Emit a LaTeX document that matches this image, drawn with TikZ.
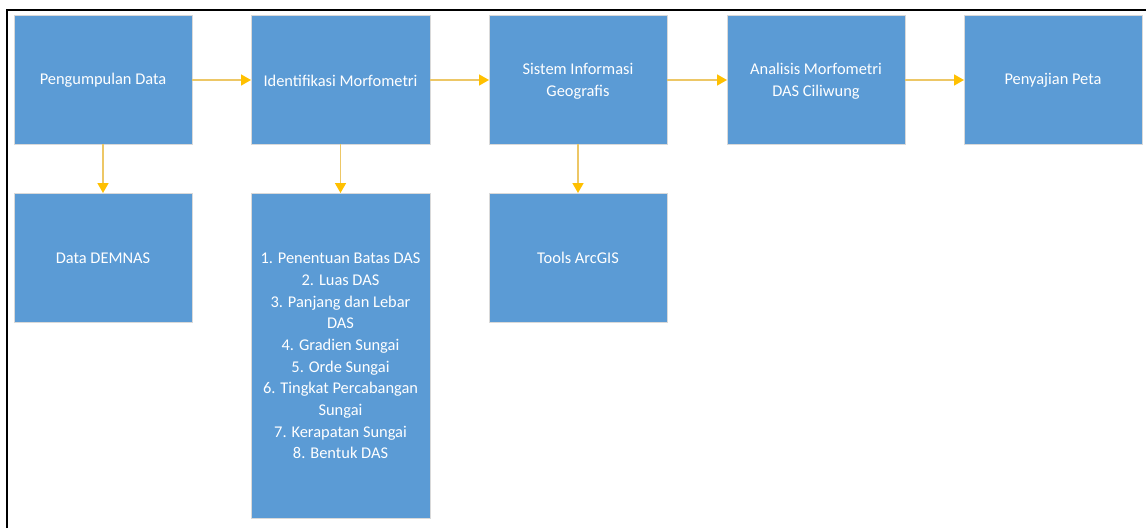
\documentclass[tikz,border=0pt]{standalone}
\usepackage{fontspec}
\setmainfont{Carlito}
\usetikzlibrary{arrows.meta}
\definecolor{boxblue}{HTML}{5B9BD5}
\definecolor{arrgold}{HTML}{FFC000}
\definecolor{linegold}{HTML}{EDC766}
\tikzset{
  x=1pt, y=-1pt,
  procbox/.style={draw=black!15, line width=0.8pt, fill=boxblue},
  boxtext/.style={text=white, align=center, font=\fontsize{16.4}{21.7}\selectfont},
  flow/.style={draw=linegold, line width=1.6pt, -{Triangle[length=10pt,width=11pt,fill=arrgold,color=arrgold]}}
}
\begin{document}
\begin{tikzpicture}
\useasboundingbox (0,0) rectangle (1146,528);
\fill[white] (0,0) rectangle (1146,528);
\draw[black, line width=2pt] (7,528) -- (7,10) -- (1146,10);
% top row boxes
\path[procbox] (14,15) rectangle (192,144);
\node[boxtext] (t1) at (103,80.5) {Pengumpulan Data};
\path[procbox] (251,15) rectangle (430,144);
\node[boxtext] (t2) at (340.5,80.5) {Identifikasi Morfometri};
\path[procbox] (489,15) rectangle (667,144);
\node[boxtext] (t3) at (578,81) {Sistem Informasi\\Geografis};
\path[procbox] (727,15) rectangle (905,144);
\node[boxtext] (t4) at (816,81) {Analisis Morfometri\\DAS Ciliwung};
\path[procbox] (964,15) rectangle (1142,144);
\node[boxtext] (t5) at (1053,80.5) {Penyajian Peta};
% bottom boxes
\path[procbox] (14,193) rectangle (192,322);
\node[boxtext] (t6) at (103,258) {Data DEMNAS};
\path[procbox] (251,193) rectangle (430,518);
\node[boxtext] (t7) at (340.5,356) {1. Penentuan Batas DAS\\2. Luas DAS\\3. Panjang dan Lebar\\DAS\\4. Gradien Sungai\\5. Orde Sungai\\6. Tingkat Percabangan\\Sungai\\7. Kerapatan Sungai\\8. Bentuk DAS};
\path[procbox] (489,193) rectangle (667,322);
\node[boxtext] (t8) at (578,258) {Tools ArcGIS};
% anchor coordinates on box edges
\coordinate (b1r) at (192,80); \coordinate (b2l) at (251,80);
\coordinate (b2r) at (430,80); \coordinate (b3l) at (489,80);
\coordinate (b3r) at (667,80); \coordinate (b4l) at (727,80);
\coordinate (b4r) at (905,80); \coordinate (b5l) at (964,80);
\coordinate (b1b) at (103,144); \coordinate (b6t) at (103,193);
\coordinate (b2b) at (340.5,144); \coordinate (b7t) at (340.5,193);
\coordinate (b3b) at (578,144); \coordinate (b8t) at (578,193);
\draw[flow] (b1r) -- (b2l);
\draw[flow] (b2r) -- (b3l);
\draw[flow] (b3r) -- (b4l);
\draw[flow] (b4r) -- (b5l);
\draw[flow] (b1b) -- (b6t);
\draw[flow] (b2b) -- (b7t);
\draw[flow] (b3b) -- (b8t);
\end{tikzpicture}
\end{document}
